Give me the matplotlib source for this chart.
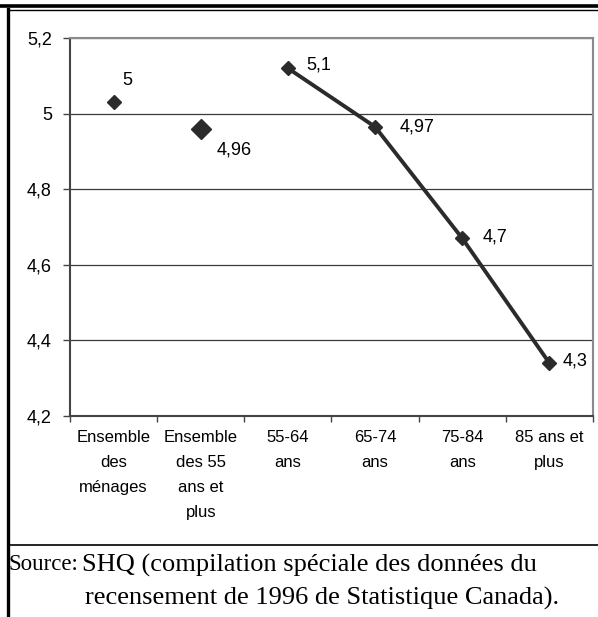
import matplotlib
matplotlib.use("Agg")
import matplotlib.pyplot as plt
from matplotlib.lines import Line2D
from matplotlib.ticker import FuncFormatter

# ── Data ──────────────────────────────────────────────────────────────
categories = [
    "Ensemble\ndes\nménages",
    "Ensemble\ndes 55\nans et\nplus",
    "55-64\nans",
    "65-74\nans",
    "75-84\nans",
    "85 ans et\nplus",
]
values = [5.03, 4.96, 5.12, 4.965, 4.67, 4.34]
value_labels = ["5", "4,96", "5,1", "4,97", "4,7", "4,3"]
y_ticks = [4.2, 4.4, 4.6, 4.8, 5.0, 5.2]
source_lines = [
    "SHQ (compilation spéciale des données du",
    "recensement de 1996 de Statistique Canada).",
]

# label offsets in points (dx, dy) relative to each marker
label_offsets = [(6.5, 15.5), (11.5, -15), (13.5, 2), (18, 0), (14.5, 1), (9.5, 1.5)]

DARK = "#2b2b2b"
plt.rcParams["font.family"] = ["Liberation Sans", "DejaVu Sans"]

fig = plt.figure(figsize=(5.98, 6.17), dpi=100)
ax = fig.add_axes([70 / 598, 1 - 416 / 617, 523 / 598, 378 / 617])

x = list(range(len(categories)))

# two standalone points, then the age-group line
ax.plot(x[0], values[0], "D", color=DARK, ms=7.5, zorder=3)
ax.plot(x[1], values[1], "D", color=DARK, ms=10.5, zorder=3)
ax.plot(x[2:], values[2:], "-D", color=DARK, lw=2.8, ms=7.5, zorder=3)

for xi, v, lab, (dx, dy) in zip(x, values, value_labels, label_offsets):
    ax.annotate(lab, (xi, v), xytext=(dx, dy), textcoords="offset points",
                ha="left", va="center", fontsize=13, color="black")

ax.set_xlim(-0.5, len(categories) - 0.5)
ax.set_ylim(4.2, 5.2)
ax.set_yticks(y_ticks)
ax.yaxis.set_major_formatter(FuncFormatter(lambda v, _: f"{v:g}".replace(".", ",")))
ax.grid(axis="y", color="#3a3a3a", lw=0.9)
ax.set_axisbelow(True)

# category labels centred, ticks on the boundaries
ax.set_xticks(x)
ax.set_xticklabels(categories, fontsize=12, linespacing=1.85, va="top")
ax.set_xticks([i - 0.5 for i in range(len(categories) + 1)], minor=True)
ax.tick_params(axis="x", which="major", length=0, pad=10)
ax.tick_params(axis="x", which="minor", length=4, width=1, color="#444444", direction="out")
ax.tick_params(axis="y", length=5, width=1, color="#444444", pad=8, labelsize=13)

for side in ("top", "right"):
    ax.spines[side].set_color("#8a8a8a")
    ax.spines[side].set_linewidth(1.5)
for side in ("left", "bottom"):
    ax.spines[side].set_color("#444444")
    ax.spines[side].set_linewidth(1.5)

# page frame around the figure
fig.add_artist(Line2D([0, 1], [1 - 5.5 / 617] * 2, color="black", lw=2.6))
fig.add_artist(Line2D([7.5 / 598, 1], [1 - 9.5 / 617] * 2, color="black", lw=1.0))
fig.add_artist(Line2D([7.5 / 598] * 2, [0, 1 - 9 / 617], color="black", lw=2.4))
fig.add_artist(Line2D([7.5 / 598, 1], [1 - 545 / 617] * 2, color="black", lw=1.2))

# source note
serif = ["Liberation Serif", "DejaVu Serif"]
fig.text(9 / 598, 1 - 565 / 617, "Source:", family=serif, fontsize=16.5, va="center")
fig.text(82 / 598, 1 - 565 / 617, source_lines[0], family=serif, fontsize=19, va="center")
fig.text(85 / 598, 1 - 598 / 617, source_lines[1], family=serif, fontsize=19, va="center")

fig.savefig("out.png", dpi=100)
